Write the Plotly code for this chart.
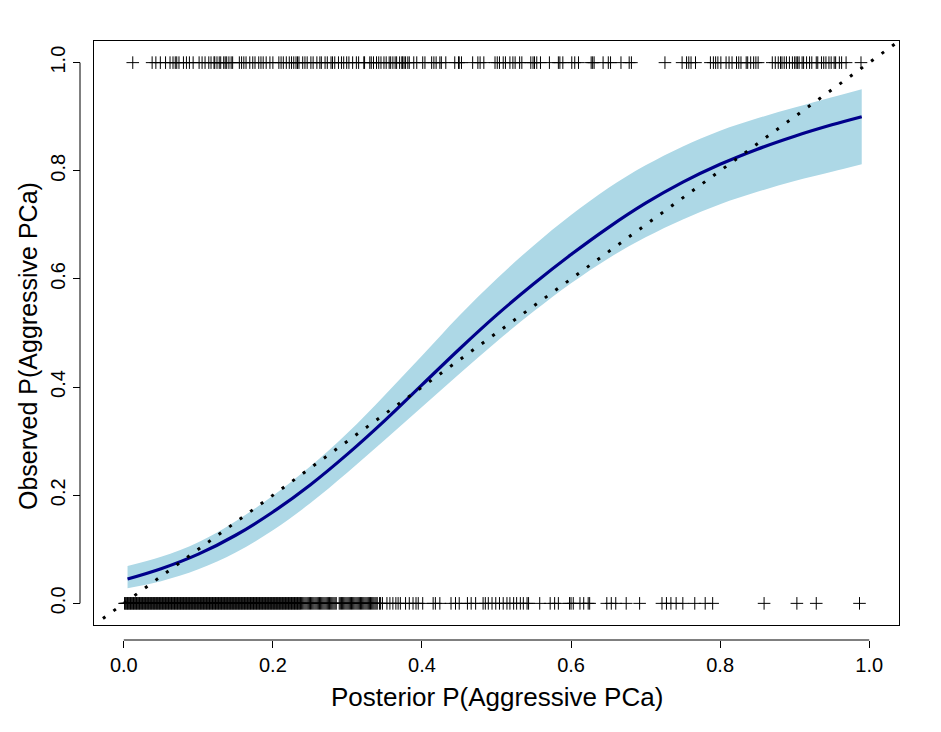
import plotly.graph_objects as go

# ---- data ----
curve_x = [0.005, 0.05, 0.10, 0.15, 0.20, 0.25, 0.30, 0.35, 0.40, 0.45, 0.50,
           0.55, 0.60, 0.65, 0.70, 0.75, 0.80, 0.85, 0.90, 0.95, 0.99]
curve_fit = [0.045, 0.064, 0.091, 0.126, 0.169, 0.219, 0.276, 0.338, 0.404, 0.470, 0.533,
             0.591, 0.645, 0.695, 0.740, 0.779, 0.812, 0.840, 0.864, 0.885, 0.900]
curve_hi = [0.069, 0.086, 0.113, 0.152, 0.199, 0.253, 0.315, 0.385, 0.458, 0.532, 0.600,
            0.662, 0.718, 0.768, 0.810, 0.845, 0.874, 0.897, 0.917, 0.936, 0.951]
curve_lo = [0.028, 0.041, 0.063, 0.094, 0.135, 0.185, 0.242, 0.302, 0.363, 0.424, 0.484,
            0.540, 0.592, 0.638, 0.677, 0.710, 0.738, 0.761, 0.781, 0.798, 0.812]

# predicted probabilities of cases observed aggressive (y = 1)
pos_x = [0.012, 0.038, 0.043, 0.049, 0.056, 0.062, 0.066, 0.069, 0.071, 0.074, 0.080, 0.084,
         0.088, 0.093, 0.101, 0.105, 0.109, 0.114, 0.117, 0.121, 0.122, 0.125, 0.128, 0.130,
         0.134, 0.136, 0.138, 0.141, 0.144, 0.146, 0.155, 0.158, 0.161, 0.164, 0.169, 0.173,
         0.176, 0.181, 0.184, 0.187, 0.191, 0.196, 0.200, 0.208, 0.211, 0.214, 0.218, 0.222,
         0.225, 0.228, 0.231, 0.233, 0.235, 0.240, 0.243, 0.246, 0.251, 0.254, 0.259, 0.263,
         0.265, 0.270, 0.273, 0.278, 0.280, 0.283, 0.288, 0.292, 0.295, 0.299, 0.302, 0.307,
         0.312, 0.315, 0.322, 0.323, 0.330, 0.332, 0.335, 0.339, 0.342, 0.345, 0.349, 0.352,
         0.356, 0.358, 0.361, 0.364, 0.366, 0.370, 0.373, 0.374, 0.376, 0.378, 0.381, 0.383,
         0.389, 0.393, 0.401, 0.404, 0.413, 0.416, 0.419, 0.424, 0.426, 0.432, 0.444, 0.449,
         0.450, 0.453, 0.468, 0.475, 0.478, 0.483, 0.498, 0.501, 0.504, 0.509, 0.512, 0.518,
         0.522, 0.525, 0.531, 0.534, 0.546, 0.549, 0.551, 0.554, 0.559, 0.571, 0.583, 0.585,
         0.589, 0.601, 0.605, 0.610, 0.627, 0.629, 0.631, 0.643, 0.650, 0.653, 0.667, 0.678,
         0.681, 0.726, 0.749, 0.755, 0.758, 0.761, 0.767, 0.787, 0.791, 0.794, 0.797, 0.801,
         0.808, 0.812, 0.816, 0.822, 0.825, 0.828, 0.835, 0.837, 0.841, 0.845, 0.848, 0.851,
         0.870, 0.874, 0.878, 0.881, 0.883, 0.886, 0.889, 0.893, 0.897, 0.900, 0.902, 0.904,
         0.906, 0.910, 0.912, 0.916, 0.920, 0.923, 0.929, 0.931, 0.936, 0.939, 0.942, 0.946,
         0.949, 0.953, 0.955, 0.960, 0.963, 0.969, 0.989]

# predicted probabilities of cases observed non-aggressive (y = 0)
neg_x = [0.001, 0.002, 0.003, 0.004, 0.005, 0.006, 0.007, 0.008, 0.009, 0.010, 0.011, 0.012,
         0.013, 0.014, 0.015, 0.016, 0.017, 0.018, 0.019, 0.020, 0.021, 0.022, 0.023, 0.024,
         0.025, 0.026, 0.027, 0.028, 0.029, 0.030, 0.031, 0.032, 0.033, 0.034, 0.035, 0.036,
         0.037, 0.038, 0.039, 0.040, 0.041, 0.042, 0.043, 0.044, 0.045, 0.046, 0.047, 0.048,
         0.049, 0.050, 0.051, 0.052, 0.053, 0.054, 0.055, 0.056, 0.057, 0.058, 0.059, 0.060,
         0.061, 0.062, 0.063, 0.064, 0.065, 0.066, 0.067, 0.068, 0.069, 0.070, 0.071, 0.072,
         0.073, 0.074, 0.075, 0.076, 0.077, 0.078, 0.079, 0.080, 0.081, 0.082, 0.083, 0.084,
         0.085, 0.086, 0.087, 0.088, 0.089, 0.090, 0.091, 0.092, 0.093, 0.094, 0.095, 0.096,
         0.097, 0.098, 0.099, 0.100, 0.101, 0.102, 0.103, 0.104, 0.105, 0.106, 0.107, 0.108,
         0.109, 0.110, 0.111, 0.112, 0.113, 0.114, 0.115, 0.116, 0.117, 0.118, 0.119, 0.120,
         0.121, 0.122, 0.123, 0.124, 0.125, 0.126, 0.127, 0.128, 0.129, 0.130, 0.131, 0.132,
         0.133, 0.134, 0.135, 0.136, 0.137, 0.138, 0.139, 0.140, 0.141, 0.142, 0.143, 0.144,
         0.145, 0.146, 0.147, 0.148, 0.149, 0.150, 0.151, 0.152, 0.153, 0.154, 0.155, 0.156,
         0.157, 0.158, 0.159, 0.160, 0.161, 0.162, 0.163, 0.164, 0.165, 0.166, 0.167, 0.168,
         0.169, 0.170, 0.171, 0.172, 0.173, 0.174, 0.175, 0.176, 0.177, 0.178, 0.179, 0.180,
         0.181, 0.182, 0.183, 0.184, 0.185, 0.186, 0.187, 0.188, 0.189, 0.190, 0.191, 0.192,
         0.193, 0.194, 0.195, 0.196, 0.197, 0.198, 0.199, 0.200, 0.201, 0.202, 0.203, 0.204,
         0.205, 0.206, 0.207, 0.208, 0.209, 0.210, 0.211, 0.212, 0.213, 0.214, 0.215, 0.216,
         0.217, 0.218, 0.219, 0.220, 0.221, 0.222, 0.223, 0.224, 0.225, 0.226, 0.227, 0.228,
         0.229, 0.230, 0.231, 0.232, 0.233, 0.234, 0.235, 0.236, 0.237, 0.2385, 0.240, 0.2415,
         0.243, 0.2445, 0.246, 0.2475, 0.249, 0.2505, 0.252, 0.2535, 0.255, 0.2565, 0.258,
         0.2595, 0.261, 0.2625, 0.264, 0.2655, 0.267, 0.2685, 0.270, 0.2715, 0.273, 0.2745,
         0.276, 0.2775, 0.279, 0.2805, 0.282, 0.2835, 0.285, 0.289, 0.2905, 0.292, 0.2935,
         0.295, 0.2965, 0.298, 0.2995, 0.301, 0.3025, 0.304, 0.3055, 0.307, 0.3085, 0.310,
         0.3115, 0.313, 0.3145, 0.316, 0.3175, 0.319, 0.3205, 0.322, 0.3235, 0.325, 0.3265,
         0.328, 0.3295, 0.331, 0.3325, 0.334, 0.3355, 0.337, 0.3385, 0.340, 0.343, 0.3445,
         0.347, 0.353, 0.357, 0.361, 0.365, 0.368, 0.371, 0.378,
         0.383, 0.388, 0.392, 0.395, 0.401, 0.415, 0.418, 0.424, 0.439, 0.445, 0.450, 0.461,
         0.466, 0.472, 0.482, 0.485, 0.489, 0.494, 0.499, 0.504, 0.509, 0.514, 0.518, 0.523,
         0.527, 0.532, 0.536, 0.541, 0.543, 0.558, 0.572, 0.578, 0.583, 0.598, 0.600, 0.603,
         0.612, 0.617, 0.623, 0.625, 0.648, 0.654, 0.660, 0.674, 0.692, 0.722, 0.728, 0.734,
         0.741, 0.750, 0.766, 0.780, 0.790, 0.859, 0.903, 0.929, 0.987]

diag_x = [-0.028, 1.04]
tick_vals = [0.0, 0.2, 0.4, 0.6, 0.8, 1.0]
tick_text = ["0.0", "0.2", "0.4", "0.6", "0.8", "1.0"]
x_title = "Posterior P(Aggressive PCa)"
y_title = "Observed P(Aggressive PCa)"

FONT = "Liberation Sans, Arial, Helvetica, sans-serif"
W, H = 941, 732
OFF = 8  # page body margin offsets the figure
# plot box in (reference) pixels
L, R, T, B = 94 - OFF, 899 - OFF, 41 - OFF, 625 - OFF
xdom = [L / W, R / W]
ydom = [1 - B / H, 1 - T / H]
xaxis_pos = 1 - (640 - OFF) / H
yaxis_pos = (80 - OFF) / W

fig = go.Figure()

# confidence band
fig.add_trace(go.Scatter(x=curve_x, y=curve_lo, mode="lines", line=dict(width=0, shape="spline"),
                         hoverinfo="skip", showlegend=False))
fig.add_trace(go.Scatter(x=curve_x, y=curve_hi, mode="lines", line=dict(width=0, shape="spline"),
                         fill="tonexty", fillcolor="#ADD8E6", hoverinfo="skip", showlegend=False))
# fitted calibration curve
fig.add_trace(go.Scatter(x=curve_x, y=curve_fit, mode="lines",
                         line=dict(color="#00008B", width=3.2, shape="spline"), showlegend=False))
# diagonal reference line
fig.add_trace(go.Scatter(x=diag_x, y=diag_x, mode="lines",
                         line=dict(color="black", width=3, dash="3px,10px"), showlegend=False))
# rug of observations
fig.add_trace(go.Scatter(x=pos_x, y=[1] * len(pos_x), mode="markers",
                         marker=dict(symbol="cross-thin", size=9, line=dict(color="black", width=1)),
                         showlegend=False))
fig.add_trace(go.Scatter(x=neg_x, y=[0] * len(neg_x), mode="markers",
                         marker=dict(symbol="cross-thin", size=9, line=dict(color="black", width=1)),
                         showlegend=False))
# invisible trace so the offset axes are drawn
fig.add_trace(go.Scatter(x=[0.5], y=[0.5], xaxis="x2", yaxis="y2", mode="markers",
                         marker=dict(opacity=0), hoverinfo="skip", showlegend=False))

rng = [-0.04, 1.04]
fig.update_layout(
    width=W, height=H,
    margin=dict(l=0, r=0, t=0, b=0),
    paper_bgcolor="white", plot_bgcolor="white",
    font=dict(family=FONT, color="black", size=20),
    xaxis=dict(domain=xdom, range=rng, showgrid=False, zeroline=False, showticklabels=False,
               ticks="", showline=True, mirror=True, linecolor="black", linewidth=1),
    yaxis=dict(domain=ydom, range=rng, showgrid=False, zeroline=False, showticklabels=False,
               ticks="", showline=True, mirror=True, linecolor="black", linewidth=1),
    xaxis2=dict(domain=xdom, range=rng, overlaying="x", anchor="free", position=xaxis_pos,
                side="bottom", showgrid=False, zeroline=False, showline=False,
                tickvals=tick_vals, ticktext=tick_text, ticks="outside", ticklen=7,
                tickwidth=1, tickcolor="black", tickfont=dict(size=20, family=FONT)),
    yaxis2=dict(domain=ydom, range=rng, overlaying="y", anchor="free", position=yaxis_pos,
                side="left", showgrid=False, zeroline=False, showline=False,
                tickvals=tick_vals, ticktext=tick_text, ticks="outside", ticklen=7,
                tickwidth=1, tickcolor="black", tickangle=-90, tickfont=dict(size=20, family=FONT)),
    shapes=[
        dict(type="line", xref="x", yref="paper", x0=0, x1=1, y0=xaxis_pos, y1=xaxis_pos,
             line=dict(color="black", width=1)),
        dict(type="line", xref="paper", yref="y", x0=yaxis_pos, x1=yaxis_pos, y0=0, y1=1,
             line=dict(color="black", width=1)),
    ],
    annotations=[
        dict(text=x_title, xref="paper", yref="paper", x=((124 + 870) / 2 - OFF) / W,
             y=1 - (697 - OFF) / H, showarrow=False, xanchor="center", yanchor="middle",
             font=dict(size=26, family=FONT)),
        dict(text=y_title, xref="paper", yref="paper", x=(28 - OFF) / W,
             y=1 - (346 - OFF) / H, showarrow=False, textangle=-90,
             xanchor="center", yanchor="middle", font=dict(size=25, family=FONT)),
    ],
)

fig.write_html("out.html")
